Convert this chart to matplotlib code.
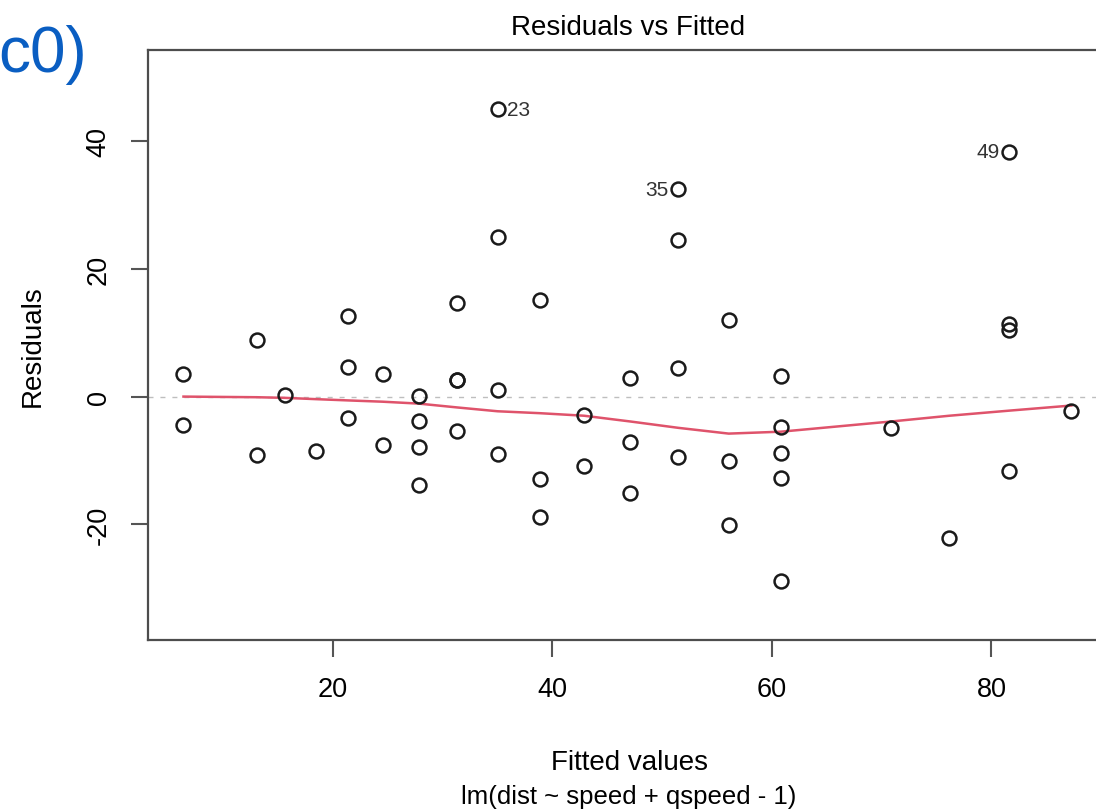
import matplotlib
matplotlib.use("Agg")
from matplotlib import pyplot as plt

plt.rcParams['font.family'] = ['Liberation Sans', 'DejaVu Sans']
plt.rcParams['axes.unicode_minus'] = False

fitted = [6.40, 6.40, 13.09, 13.09, 15.68, 18.45, 21.40, 21.40, 21.40, 24.53,
          24.53, 27.84, 27.84, 27.84, 27.84, 31.33, 31.33, 31.33, 31.33, 35.01,
          35.01, 35.01, 35.01, 38.86, 38.86, 38.86, 42.89, 42.89, 47.10, 47.10,
          47.10, 51.49, 51.49, 51.49, 51.49, 56.07, 56.07, 56.07, 60.82, 60.82,
          60.82, 60.82, 60.82, 70.87, 76.16, 81.63, 81.63, 81.63, 81.63, 87.28]
residuals = [-4.40, 3.60, -9.09, 8.91, 0.32, -8.45, -3.40, 4.60, 12.60, -7.53,
             3.47, -13.84, -7.84, -3.84, 0.16, -5.33, 2.67, 2.67, 14.67, -9.01,
             0.99, 24.99, 44.99, -18.86, -12.86, 15.14, -10.89, -2.89, -15.10, -7.10,
             2.90, -9.49, 4.51, 24.51, 32.51, -20.07, -10.07, 11.93, -28.82, -12.82,
             -8.82, -4.82, 3.18, -4.87, -22.16, -11.63, 10.37, 11.37, 38.37, -2.28]

# smoother (red line)
smooth_x = [6.40, 13.09, 15.68, 18.45, 21.40, 24.53, 27.84, 31.33, 35.01, 38.86,
            42.89, 47.10, 51.49, 56.07, 60.82, 70.87, 76.16, 81.63, 87.28]
smooth_y = [0.0, -0.1, -0.2, -0.4, -0.6, -0.8, -1.1, -1.7, -2.3, -2.6,
            -3.0, -3.9, -4.9, -5.8, -5.5, -3.9, -3.0, -2.2, -1.4]

labeled = [23, 35, 49]

xticks = [20, 40, 60, 80]
yticks = [-20, 0, 20, 40]

fig = plt.figure(figsize=(10.96, 8.12), dpi=100)
ax = fig.add_axes([0.135, 0.2106, 0.875, 0.7266])

ax.axhline(0, color='#bebebe', lw=1.0, linestyle=(0, (3.6, 5.0)), zorder=1)
ax.plot(smooth_x, smooth_y, color='#DF536B', lw=1.8, zorder=2)
ax.plot(fitted, residuals, 'o', mfc='none', mec='#1a1a1a', ms=10, mew=1.8, zorder=3)

mid = (min(fitted) + max(fitted)) / 2
for i in labeled:
    fx, ry = fitted[i - 1], residuals[i - 1]
    if fx < mid:
        ax.annotate(str(i), (fx, ry), xytext=(7, 0), textcoords='offset points',
                    ha='left', va='center', fontsize=15, color='#333333')
    else:
        ax.annotate(str(i), (fx, ry), xytext=(-7, 0), textcoords='offset points',
                    ha='right', va='center', fontsize=15, color='#333333')

ax.set_xlim(3.165, 90.52)
ax.set_ylim(-38.14, 54.31)
ax.set_xticks(xticks)
ax.set_yticks(yticks)
ax.tick_params(length=12, width=1.5, color='#555555', pad=14, labelsize=19.5)
ax.tick_params(axis='y', labelrotation=90)
for lab in ax.get_yticklabels():
    lab.set_va('center')

for side in ['left', 'bottom', 'top', 'right']:
    ax.spines[side].set_color('#4d4d4d')
    ax.spines[side].set_linewidth(1.6)

fig.text(0.573, 0.9655, 'Residuals vs Fitted', ha='center', va='center', fontsize=20)
fig.text(0.574, 0.0603, 'Fitted values', ha='center', va='center', fontsize=20)
fig.text(0.574, 0.0185, 'lm(dist ~ speed + qspeed - 1)', ha='center', va='center', fontsize=18.5)
fig.text(0.030, 0.574, 'Residuals', ha='center', va='center', rotation=90, fontsize=20)

# fragment of neighbouring text, cut at the left edge as in the reference
fig.text(0.079, 0.911, 'c0)', ha='right', va='baseline', fontsize=46, color='#0A5EC2')

fig.savefig('out.png', dpi=100)
